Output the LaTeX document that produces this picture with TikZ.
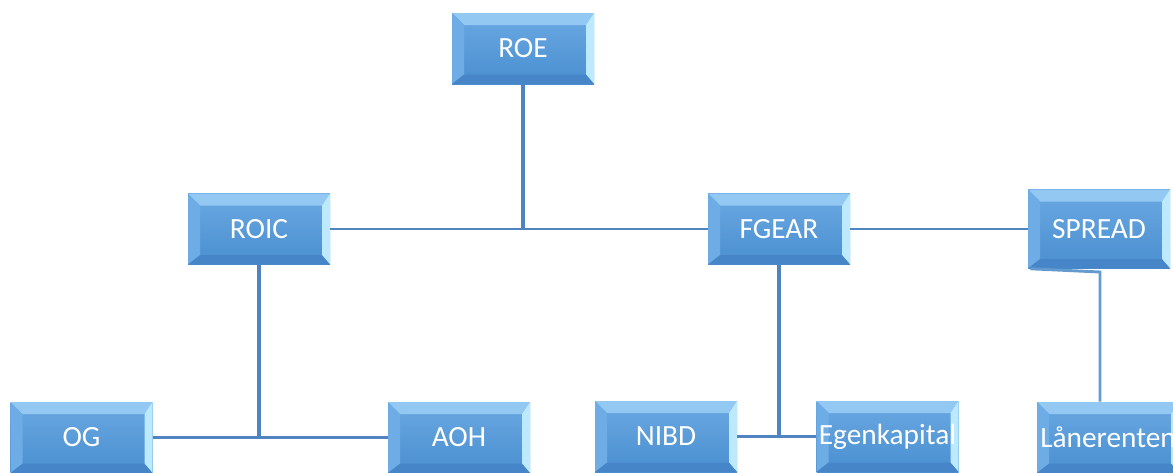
\documentclass[tikz,border=0pt]{standalone}
\usepackage{fontspec}
\setmainfont{Carlito}
\definecolor{boxtop}{RGB}{106,168,226}
\definecolor{boxbot}{RGB}{74,143,208}
\definecolor{beveltop}{RGB}{146,200,242}
\definecolor{bevelleft}{RGB}{110,172,230}
\definecolor{bevelright}{RGB}{188,234,252}
\definecolor{bevelbot}{RGB}{70,134,200}
\definecolor{linkblue}{RGB}{79,132,192}
\begin{document}
\begin{tikzpicture}[x=0.75pt,y=-0.75pt,
    box/.style={minimum width=106.5pt,minimum height=53.25pt,inner sep=0pt,
      top color=boxtop,bottom color=boxbot,text=white,
      font=\fontsize{22}{26}\selectfont,
      path picture={
        \path (path picture bounding box.south west) coordinate (bsw)
              (path picture bounding box.north east) coordinate (bne);
        \fill[beveltop] (bsw|-bne) -- (bne) -- ([shift={(-6pt,-9pt)}]bne)
          -- ([shift={(9pt,-9pt)}]bsw|-bne) -- cycle;
        \fill[bevelleft] (bsw|-bne) -- ([shift={(9pt,-9pt)}]bsw|-bne)
          -- ([shift={(9pt,7pt)}]bsw) -- (bsw) -- cycle;
        \fill[bevelright] (bne) -- (bne|-bsw) -- ([shift={(-6pt,7pt)}]bne|-bsw)
          -- ([shift={(-6pt,-9pt)}]bne) -- cycle;
        \fill[bevelbot] (bsw) -- ([shift={(9pt,7pt)}]bsw)
          -- ([shift={(-6pt,7pt)}]bne|-bsw) -- (bne|-bsw) -- cycle;
      }},
    link/.style={draw=linkblue,line width=2.2pt}]
\useasboundingbox (0,0) rectangle (1173,472);
\node[box] (roe) at (523,48.5) {ROE};
\node[box] (roic) at (259,229) {ROIC};
\node[box] (fgear) at (779,229) {FGEAR};
\node[box,minimum height=59.25pt] (spread) at (1099,229) {SPREAD};
\node[box] (og) at (81.5,437.5) {OG};
\node[box] (aoh) at (459,437.5) {AOH};
\node[box] (nibd) at (666,436.5) {NIBD};
\node[box] (egen) at (887.5,436.5) {Egenkapital};
\node[box] (laan) at (1108,437.5) {Lånerenten};
\draw[link,line width=3pt] (roe.south) -- (roe.south |- roic.east);
\draw[link] (roic.east) -- (fgear.west);
\draw[link,line width=3pt] (roic.south) -- (roic.south |- og.east);
\draw[link] (og.east) -- (aoh.west);
\draw[link,line width=3pt] (fgear.south) -- (fgear.south |- nibd.east);
\draw[link] (nibd.east) -- (egen.west);
\draw[link] (fgear.east) -- (spread.west);
\coordinate (spbend) at (1100,272);
\draw[link,draw=bevelleft!90!black] ([xshift=2pt]spread.south west) -- (spbend) -- (spbend |- laan.north);
\end{tikzpicture}
\end{document}
